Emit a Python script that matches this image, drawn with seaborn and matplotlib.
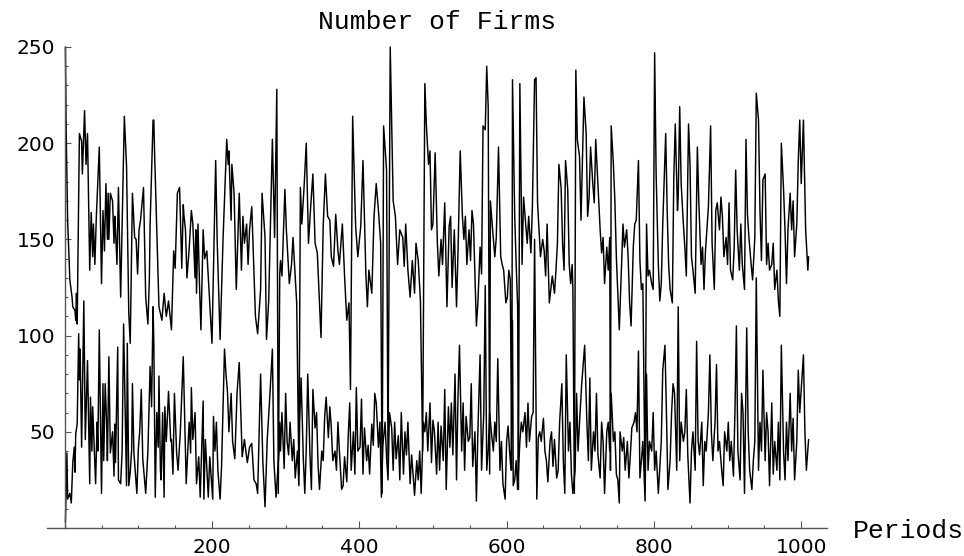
import matplotlib
matplotlib.use("Agg")
import matplotlib.pyplot as plt
from matplotlib.ticker import MultipleLocator
import seaborn as sns
import pandas as pd

# ---- data: (period, number of firms) ----
upper_points = [
    (1, 250), (2, 207), (4, 160), (7, 129), (10, 120), (11, 115), (14, 113), (15, 108), (16, 122), (17, 106),
    (20, 205), (23, 201), (24, 184), (27, 217), (29, 189), (31, 205), (34, 134), (36, 164), (38, 141), (39, 158),
    (41, 137), (43, 162), (47, 198), (50, 127), (52, 165), (54, 144), (56, 179), (58, 150), (59, 174), (60, 150),
    (62, 174), (65, 170), (67, 148), (68, 162), (69, 155), (71, 137), (73, 177), (76, 120), (81, 214), (84, 188),
    (87, 112), (89, 96), (92, 174), (95, 151), (97, 150), (99, 132), (101, 155), (103, 160), (107, 177), (110, 120),
    (113, 106), (115, 130), (116, 158), (120, 212), (121, 212), (122, 196), (125, 155), (128, 115), (132, 108), (135, 122),
    (138, 110), (141, 118), (145, 103), (148, 144), (150, 135), (153, 174), (156, 177), (159, 135), (161, 168), (162, 162),
    (164, 155), (166, 130), (169, 145), (172, 165), (174, 158), (177, 130), (178, 155), (179, 122), (181, 158), (183, 127),
    (185, 103), (188, 155), (190, 140), (193, 144), (197, 117), (200, 96), (205, 191), (207, 150), (211, 98), (215, 150),
    (220, 202), (222, 189), (223, 196), (226, 160), (227, 189), (230, 174), (233, 124), (237, 174), (240, 134), (242, 162),
    (244, 148), (247, 158), (249, 137), (251, 155), (254, 167), (259, 110), (262, 101), (266, 124), (268, 174), (272, 151),
    (274, 98), (277, 118), (282, 202), (285, 151), (288, 228), (290, 18), (292, 132), (293, 139), (295, 131), (299, 176),
    (301, 155), (305, 127), (308, 137), (310, 151), (315, 117), (318, 28), (320, 177), (322, 158), (325, 177), (328, 200),
    (331, 148), (334, 167), (337, 184), (340, 148), (343, 143), (346, 117), (348, 99), (351, 157), (354, 184), (357, 162),
    (360, 160), (362, 141), (365, 136), (368, 163), (371, 144), (373, 137), (377, 158), (380, 131), (383, 108), (386, 117),
    (388, 72), (391, 214), (395, 157), (398, 141), (402, 157), (405, 191), (409, 131), (411, 115), (413, 134), (417, 122),
    (420, 162), (423, 179), (426, 165), (429, 148), (431, 18), (433, 209), (437, 186), (439, 35), (442, 250), (446, 170),
    (449, 162), (452, 137), (455, 155), (459, 151), (461, 136), (463, 158), (466, 134), (469, 120), (472, 139), (475, 122),
    (477, 148), (480, 139), (483, 118), (486, 40), (489, 231), (491, 210), (494, 189), (496, 196), (498, 155), (500, 158),
    (503, 195), (506, 148), (508, 131), (511, 150), (513, 137), (516, 169), (519, 115), (522, 157), (524, 162), (526, 125),
    (529, 155), (532, 115), (534, 143), (537, 196), (540, 162), (542, 150), (544, 162), (546, 137), (549, 155), (551, 139),
    (553, 165), (555, 158), (559, 105), (561, 117), (564, 146), (566, 132), (568, 209), (571, 207), (573, 240), (575, 219),
    (577, 28), (578, 170), (581, 155), (584, 141), (586, 151), (589, 198), (592, 141), (594, 137), (596, 134), (599, 117),
    (601, 120), (603, 134), (605, 129), (607, 30), (608, 233), (611, 162), (613, 137), (615, 115), (616, 20), (618, 231),
    (621, 137), (623, 172), (626, 158), (628, 148), (630, 162), (633, 143), (635, 167), (638, 233), (640, 234), (642, 169),
    (644, 155), (646, 141), (649, 150), (651, 144), (653, 131), (655, 158), (658, 117), (660, 124), (662, 131), (665, 122),
    (667, 134), (669, 148), (671, 189), (674, 177), (676, 148), (678, 134), (680, 191), (683, 176), (685, 137), (687, 127),
    (689, 137), (690, 124), (692, 18), (694, 238), (696, 202), (699, 193), (701, 160), (703, 191), (705, 224), (708, 205),
    (710, 162), (712, 172), (714, 198), (717, 179), (719, 169), (721, 202), (724, 179), (727, 155), (729, 143), (731, 151),
    (733, 127), (736, 146), (738, 134), (740, 151), (741, 30), (742, 209), (745, 189), (747, 170), (749, 141), (753, 103),
    (756, 137), (758, 158), (760, 146), (763, 155), (765, 141), (767, 117), (769, 105), (772, 146), (774, 158), (776, 160),
    (779, 191), (781, 139), (783, 124), (785, 127), (788, 20), (790, 158), (792, 131), (794, 134), (797, 127), (799, 124),
    (801, 247), (803, 184), (806, 137), (808, 118), (810, 127), (812, 158), (816, 205), (818, 165), (820, 137), (822, 124),
    (825, 117), (827, 182), (829, 210), (832, 165), (833, 172), (835, 219), (837, 179), (840, 158), (842, 146), (844, 131),
    (847, 210), (849, 189), (851, 141), (853, 134), (856, 122), (859, 198), (861, 169), (864, 137), (866, 146), (868, 124),
    (870, 144), (874, 167), (877, 209), (879, 148), (882, 124), (884, 165), (886, 169), (889, 155), (891, 172), (893, 162),
    (895, 141), (898, 151), (900, 137), (902, 169), (904, 134), (907, 129), (909, 146), (911, 186), (913, 155), (916, 134),
    (918, 158), (920, 137), (923, 124), (925, 202), (927, 163), (929, 151), (932, 137), (934, 129), (937, 151), (939, 226),
    (942, 212), (944, 165), (946, 139), (948, 181), (951, 184), (953, 137), (955, 148), (957, 134), (960, 137), (962, 148),
    (964, 124), (967, 134), (969, 118), (971, 110), (973, 200), (976, 176), (978, 155), (980, 127), (982, 155), (985, 174),
    (987, 155), (989, 170), (991, 141), (994, 158), (996, 191), (998, 212), (1000, 179), (1003, 212), (1006, 155), (1009, 134),
    (1010, 141),
]

lower_points = [
    (1, 3), (3, 39), (4, 15), (7, 18), (9, 13), (11, 34), (13, 42), (14, 29), (15, 49), (17, 54),
    (19, 101), (20, 77), (21, 93), (23, 42), (26, 118), (28, 46), (31, 87), (34, 23), (35, 68), (37, 40),
    (38, 63), (42, 23), (44, 55), (45, 40), (47, 103), (50, 18), (52, 75), (53, 35), (55, 75), (57, 54),
    (58, 35), (59, 63), (60, 89), (62, 39), (65, 50), (67, 27), (68, 54), (69, 34), (70, 54), (72, 94),
    (73, 25), (76, 23), (78, 40), (80, 106), (82, 63), (84, 22), (85, 96), (87, 22), (89, 29), (91, 41),
    (92, 75), (94, 39), (98, 18), (100, 41), (102, 51), (104, 72), (106, 36), (110, 18), (113, 40), (116, 84),
    (118, 63), (120, 115), (121, 97), (123, 16), (125, 60), (127, 42), (128, 79), (130, 30), (131, 25), (133, 60),
    (135, 16), (136, 63), (138, 45), (141, 71), (144, 45), (145, 46), (147, 28), (149, 70), (152, 39), (154, 30),
    (157, 50), (161, 89), (163, 55), (165, 23), (169, 55), (171, 39), (172, 73), (174, 46), (177, 60), (179, 23),
    (182, 37), (184, 16), (188, 66), (189, 15), (191, 46), (195, 16), (197, 37), (201, 15), (202, 58), (204, 40),
    (206, 55), (208, 30), (211, 15), (213, 32), (217, 93), (219, 80), (221, 71), (223, 50), (226, 70), (228, 45),
    (231, 36), (234, 70), (237, 86), (241, 37), (244, 46), (248, 34), (251, 42), (254, 44), (257, 25), (260, 23),
    (262, 18), (266, 80), (269, 35), (272, 11), (275, 46), (278, 65), (282, 93), (284, 35), (287, 16), (291, 40),
    (292, 55), (293, 40), (295, 60), (298, 31), (300, 70), (302, 45), (304, 38), (306, 55), (309, 35), (311, 46),
    (313, 26), (316, 40), (318, 22), (319, 55), (321, 78), (324, 36), (326, 18), (328, 41), (330, 80), (333, 38),
    (335, 20), (337, 72), (340, 52), (342, 60), (344, 33), (346, 20), (349, 40), (351, 35), (353, 58), (355, 68),
    (358, 47), (360, 63), (362, 52), (364, 35), (367, 40), (369, 30), (371, 55), (373, 40), (376, 20), (378, 22),
    (380, 37), (383, 24), (385, 48), (387, 65), (389, 30), (392, 50), (394, 28), (396, 73), (398, 40), (401, 42),
    (403, 67), (405, 28), (407, 52), (410, 35), (412, 43), (414, 28), (417, 54), (419, 43), (421, 70), (423, 65),
    (426, 42), (428, 55), (430, 16), (432, 43), (435, 55), (437, 37), (439, 25), (441, 60), (444, 52), (446, 30),
    (448, 55), (450, 36), (453, 48), (455, 25), (457, 60), (460, 28), (462, 50), (464, 38), (466, 55), (469, 23),
    (471, 38), (473, 28), (475, 17), (478, 35), (480, 25), (482, 40), (484, 18), (487, 55), (489, 50), (491, 60),
    (493, 40), (496, 65), (498, 34), (500, 56), (502, 50), (505, 28), (507, 55), (509, 30), (511, 53), (514, 35),
    (516, 72), (518, 20), (521, 63), (523, 42), (525, 65), (527, 38), (530, 80), (532, 25), (534, 68), (536, 95),
    (539, 40), (541, 65), (543, 30), (545, 58), (548, 45), (550, 47), (552, 75), (554, 32), (557, 50), (559, 14),
    (561, 50), (564, 90), (566, 30), (569, 60), (571, 126), (573, 30), (575, 40), (577, 60), (579, 51), (582, 40),
    (584, 55), (586, 45), (588, 88), (591, 30), (593, 45), (595, 23), (598, 15), (600, 45), (602, 53), (604, 40),
    (606, 30), (608, 108), (609, 22), (611, 25), (613, 35), (615, 20), (618, 45), (620, 55), (622, 50), (625, 60),
    (627, 42), (629, 65), (631, 45), (634, 58), (636, 60), (638, 150), (641, 15), (643, 47), (645, 50), (647, 45),
    (650, 57), (652, 40), (654, 35), (656, 24), (659, 45), (661, 50), (663, 32), (665, 46), (668, 26), (670, 30),
    (672, 55), (675, 75), (677, 35), (679, 18), (681, 90), (684, 40), (686, 55), (688, 28), (690, 18), (693, 30),
    (695, 70), (697, 40), (699, 55), (702, 75), (704, 85), (706, 95), (709, 55), (711, 35), (713, 78), (715, 30),
    (718, 50), (720, 40), (722, 70), (724, 38), (727, 26), (729, 55), (731, 45), (733, 18), (736, 50), (738, 55),
    (740, 40), (742, 70), (745, 45), (747, 50), (749, 28), (751, 25), (753, 13), (754, 50), (757, 40), (759, 47),
    (761, 30), (764, 45), (766, 26), (768, 38), (770, 52), (773, 55), (775, 60), (777, 50), (779, 92), (781, 26),
    (783, 35), (785, 45), (788, 14), (790, 80), (792, 30), (794, 45), (797, 40), (799, 60), (801, 30), (803, 40),
    (806, 18), (808, 32), (810, 45), (812, 82), (815, 95), (817, 60), (819, 20), (822, 35), (824, 60), (826, 75),
    (828, 70), (831, 30), (833, 115), (835, 35), (837, 55), (840, 45), (842, 50), (844, 72), (846, 38), (849, 13),
    (851, 40), (853, 50), (856, 30), (858, 97), (860, 45), (862, 38), (865, 55), (867, 22), (869, 45), (871, 40),
    (874, 60), (876, 90), (878, 50), (880, 35), (883, 55), (885, 85), (887, 40), (889, 45), (892, 30), (894, 22),
    (896, 50), (899, 40), (901, 55), (903, 35), (905, 45), (908, 27), (910, 60), (912, 105), (914, 40), (917, 25),
    (919, 70), (921, 60), (923, 18), (926, 104), (928, 50), (930, 30), (933, 20), (935, 35), (937, 45), (939, 130),
    (942, 30), (944, 55), (946, 40), (948, 82), (951, 35), (953, 60), (955, 50), (957, 22), (960, 65), (962, 28),
    (964, 45), (967, 30), (969, 55), (971, 25), (973, 95), (976, 40), (978, 25), (980, 55), (982, 35), (985, 70),
    (987, 40), (989, 57), (991, 25), (994, 45), (996, 82), (998, 60), (1000, 72), (1003, 90), (1005, 50), (1007, 30),
    (1010, 46),
]

x_ticks = [200, 400, 600, 800, 1000]
y_ticks = [50, 100, 150, 200, 250]
title_text = "Number of Firms"
x_label_text = "Periods"

upper_periods, upper_firms = zip(*upper_points)
lower_periods, lower_firms = zip(*lower_points)
df_upper = pd.DataFrame({"Periods": upper_periods, "Firms": upper_firms})
df_lower = pd.DataFrame({"Periods": lower_periods, "Firms": lower_firms})

sns.set_style("white")
plt.rcParams["font.family"] = ["DejaVu Sans"]

fig = plt.figure(figsize=(9.64, 5.56), dpi=100)
ax = fig.add_axes([47 / 964, 28 / 556, 780 / 964, 481 / 556])

for df in (df_upper, df_lower):
    sns.lineplot(data=df, x="Periods", y="Firms", ax=ax, color="black",
                 linewidth=1.05, estimator=None, sort=True)
for ln in ax.get_lines():
    ln.set_clip_on(False)

ax.set_xlim(-24, 1035)
ax.set_ylim(0, 250)
ax.set_xlabel("")
ax.set_ylabel("")

axis_color = "#555555"
for side in ("top", "right"):
    ax.spines[side].set_visible(False)
ax.spines["left"].set_position(("data", 0))
for side in ("left", "bottom"):
    ax.spines[side].set_color(axis_color)
    ax.spines[side].set_linewidth(1.0)

ax.set_xticks(x_ticks)
ax.set_xticklabels([str(t) for t in x_ticks])
ax.set_yticks(y_ticks)
ax.set_yticklabels([str(t) for t in y_ticks])
ax.xaxis.set_minor_locator(MultipleLocator(50))
ax.yaxis.set_minor_locator(MultipleLocator(10))

ax.tick_params(axis="both", which="both", direction="in", colors=axis_color,
               labelcolor="black", labelsize=14.5, width=0.8,
               bottom=True, left=True, top=False, right=False)
ax.tick_params(axis="x", which="major", length=5, pad=7)
ax.tick_params(axis="x", which="minor", length=2.5)
ax.tick_params(axis="y", which="major", length=4.5, pad=7)
ax.tick_params(axis="y", which="minor", length=2.5)

fig.text(437 / 964, 1 - 22 / 556, title_text, ha="center", va="center",
         family="Liberation Mono", fontsize=19, color="black")
fig.text(853 / 964, 1 - 538 / 556, x_label_text, ha="left", va="baseline",
         family="Liberation Mono", fontsize=19, color="black")

fig.savefig("out.png", dpi=100)
